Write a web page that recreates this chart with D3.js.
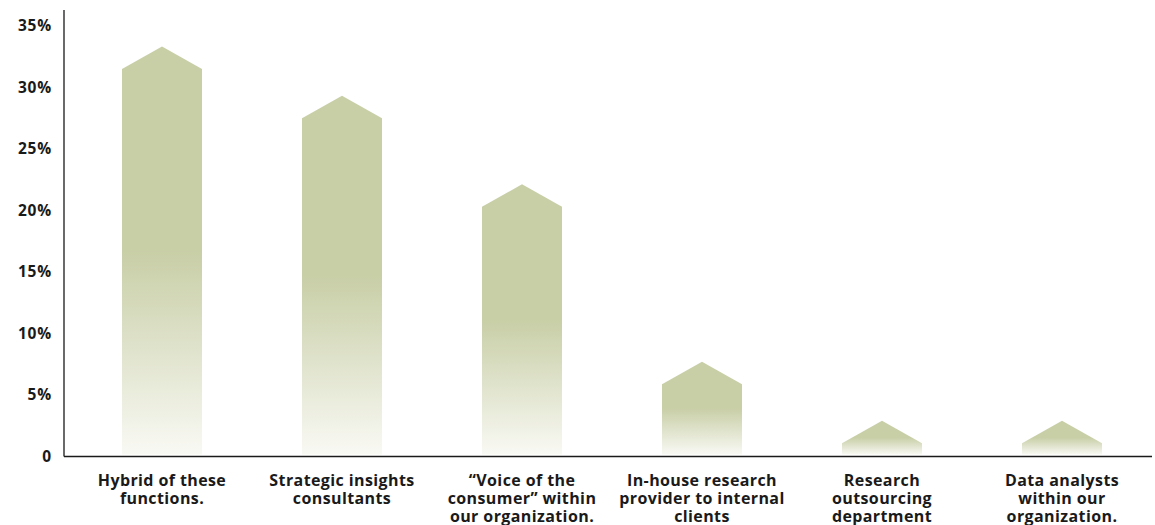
<!DOCTYPE html>
<html>
<head>
<meta charset="utf-8">
<script src="https://cdn.jsdelivr.net/npm/d3@7"></script>
<style>
  html, body { margin: 0; padding: 0; background: #ffffff; }
  svg { display: block; }
  text { font-family: "Open Sans", "Noto Sans", sans-serif; font-weight: 700; fill: #1a1a1a; }
</style>
</head>
<body>
<svg id="chart" width="1155" height="525"></svg>
<script>
const categories = [
  ["Hybrid of these", "functions."],
  ["Strategic insights", "consultants"],
  ["\u201CVoice of the", "consumer\u201D within", "our organization."],
  ["In-house research", "provider to internal", "clients"],
  ["Research", "outsourcing", "department"],
  ["Data analysts", "within our", "organization."]
];
const values = [33.3, 29.3, 22.1, 7.7, 2.9, 2.9];
const yTicks = [0, 5, 10, 15, 20, 25, 30, 35];
const yTickLabels = ["0", "5%", "10%", "15%", "20%", "25%", "30%", "35%"];

const svg = d3.select("#chart");
const mLeft = 64, mRight = 1152, mTop = 10, mBottom = 456.5;
const FONT = "'Open Sans', 'Noto Sans', sans-serif";

const x = d3.scaleBand().domain(d3.range(categories.length)).range([72, 1152]).padding(0);
const y = d3.scaleLinear().domain([0, 35]).range([mBottom, 25.5]);

const barW = 80;
const roofH = 22.5;

// gradient
const defs = svg.append("defs");
const grad = defs.append("linearGradient")
  .attr("id", "barGrad").attr("x1", 0).attr("y1", 0).attr("x2", 0).attr("y2", 1);
grad.append("stop").attr("offset", "0%").attr("stop-color", "#c8cea6");
grad.append("stop").attr("offset", "50%").attr("stop-color", "#c8cea6");
grad.append("stop").attr("offset", "100%").attr("stop-color", "#f9f9f4");

// bars (house shape)
svg.append("g").selectAll("path")
  .data(values)
  .join("path")
  .attr("d", (v, i) => {
    const cx = x(i) + x.bandwidth() / 2;
    const x0 = cx - barW / 2, x1 = cx + barW / 2;
    const yPeak = y(v);
    const yShoulder = yPeak + roofH;
    const yBase = y(0) - 2;
    return `M${x0},${yBase}L${x0},${yShoulder}L${cx},${yPeak}L${x1},${yShoulder}L${x1},${yBase}Z`;
  })
  .attr("fill", "url(#barGrad)");

// y axis
const yAxis = d3.axisLeft(y).tickValues(yTicks)
  .tickFormat((d, i) => yTickLabels[i]).tickSize(0).tickPadding(12);
const gy = svg.append("g").attr("transform", `translate(${mLeft},0)`).call(yAxis);
gy.select(".domain").remove();
gy.selectAll("text").style("font-size", "15.5px").attr("fill", "#1a1a1a")
  .style("font-family", FONT).style("font-weight", "700")
  .style("letter-spacing", "0.8px");
svg.append("line").attr("x1", mLeft).attr("x2", mLeft).attr("y1", mTop).attr("y2", mBottom)
  .attr("stroke", "#1a1a1a").attr("stroke-width", 1.3);

// x axis
const xAxis = d3.axisBottom(x).tickSize(0).tickFormat("");
const gx = svg.append("g").attr("transform", `translate(0,${mBottom})`).call(xAxis);
gx.select(".domain").remove();
svg.append("line").attr("x1", mLeft).attr("x2", mRight).attr("y1", mBottom).attr("y2", mBottom)
  .attr("stroke", "#1a1a1a").attr("stroke-width", 1.3);

// category labels
const lab = svg.append("g").selectAll("text")
  .data(categories)
  .join("text")
  .attr("text-anchor", "middle")
  .attr("x", (d, i) => x(i) + x.bandwidth() / 2)
  .attr("y", 485.5)
  .style("font-size", "16px")
  .style("letter-spacing", "0.4px");
lab.selectAll("tspan")
  .data(d => d)
  .join("tspan")
  .attr("x", function () { return this.parentNode.getAttribute("x"); })
  .attr("dy", (d, i) => i === 0 ? 0 : 18)
  .text(d => d);
</script>
</body>
</html>
